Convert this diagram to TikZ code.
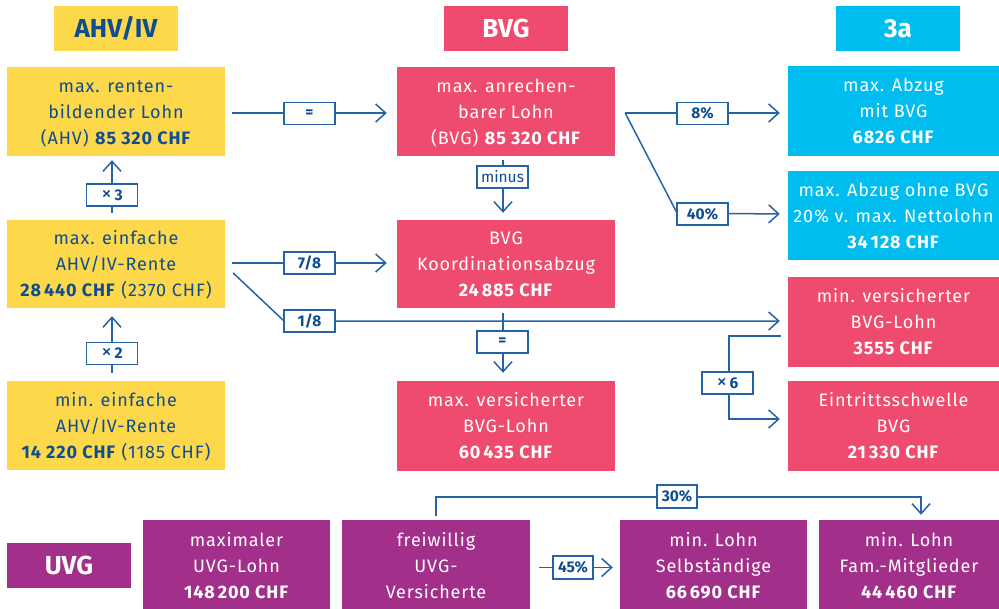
\documentclass[tikz,border=0pt]{standalone}
\usepackage{fontspec}
\setmainfont[LetterSpace=5]{Fira Sans}
\newfontfamily\hfont{Fira Sans}
\usetikzlibrary{arrows.meta,calc}
\definecolor{ahv}{HTML}{FDD84A}
\definecolor{bvg}{HTML}{EF4B6E}
\definecolor{drei}{HTML}{00BDF0}
\definecolor{uvg}{HTML}{A2308B}
\definecolor{tblue}{HTML}{0F4D92}
\definecolor{lblue}{HTML}{2463A6}
\newcommand{\mal}{{\mdseries\fontsize{21}{17}\selectfont ×}\,}
\begin{document}
\begin{tikzpicture}[x=1pt,y=-1pt,
 box/.style={inner sep=0pt, align=center, font=\fontsize{18}{26}\selectfont, text height=65pt, text depth=0pt},
 ybox/.style={box, fill=ahv, text=tblue},
 pbox/.style={box, fill=bvg, text=white},
 cbox/.style={box, fill=drei, text=white},
 ubox/.style={box, fill=uvg, text=white},
 hdr/.style={inner sep=0pt, minimum width=124, minimum height=45, font=\hfont\fontsize{26}{30}\selectfont\bfseries},
 lbl/.style={draw=lblue, line width=1.2pt, fill=white, minimum width=51, minimum height=22, inner sep=0pt, text=tblue, font=\hfont\fontsize{15.5}{17}\selectfont\bfseries},
 slbl/.style={lbl, minimum width=40, minimum height=23},
 conn/.style={draw=lblue, line width=1.5pt, -{Straight Barb[length=10pt,width=18pt,line width=1.5pt]}}
]
\useasboundingbox (0,0) rectangle (999,608);
\clip (0,0) rectangle (999,608);
% headers
\node[hdr, fill=ahv, text=tblue] (hA) at (116,28.5) {AHV/IV};
\node[hdr, fill=bvg, text=white] (hB) at (506,28.5) {BVG};
\node[hdr, fill=drei, text=white] (hC) at (898,28.5) {3a};
\node[hdr, fill=uvg, text=white] (hU) at (69,565.5) {UVG};
% AHV column
\node[ybox, minimum width=218, minimum height=89] (y1) at (116,111.5) {max. renten-\\bildender Lohn\\(AHV) \textbf{85 320 CHF}};
\node[ybox, minimum width=218, minimum height=88] (y2) at (116,264) {max. einfache\\AHV/IV-Rente\\\textbf{28\,440 CHF} (2370 CHF)};
\node[ybox, minimum width=218, minimum height=89] (y3) at (116,425.5) {min. einfache\\AHV/IV-Rente\\\textbf{14 220 CHF} (1185 CHF)};
% BVG column
\node[pbox, minimum width=218, minimum height=89] (p1) at (506,111.5) {max. anrechen-\\barer Lohn\\(BVG) \textbf{85 320 CHF}};
\node[pbox, minimum width=218, minimum height=88] (p2) at (506,264) {BVG\\Koordinationsabzug\\\textbf{24\,885 CHF}};
\node[pbox, minimum width=218, minimum height=90] (p3) at (506,426) {max. versicherter\\BVG-Lohn\\\textbf{60\,435 CHF}};
% right column
\node[cbox, minimum width=211, minimum height=90] (c1) at (893.5,111) {max. Abzug\\mit BVG\\\textbf{6826 CHF}};
\node[cbox, minimum width=211, minimum height=89] (c2) at (893.5,215.5) {max. Abzug ohne BVG\\20\% v. max. Nettolohn\\\textbf{34\,128 CHF}};
\node[pbox, minimum width=211, minimum height=90] (p4) at (893.5,322) {min. versicherter\\BVG-Lohn\\\textbf{3555 CHF}};
\node[pbox, minimum width=211, minimum height=90] (p5) at (893.5,426) {Eintrittsschwelle\\BVG\\\textbf{21\,330 CHF}};
% UVG row
\node[ubox, minimum width=187, minimum height=92] (u1) at (236.5,566) {maximaler\\UVG-Lohn\\\textbf{148\,200 CHF}};
\node[ubox, minimum width=188, minimum height=92] (u2) at (436,566) {freiwillig\\UVG-\\Versicherte};
\node[ubox, minimum width=187, minimum height=92] (u3) at (713.5,566) {min. Lohn\\Selbständige\\\textbf{66\,690 CHF}};
\node[ubox, minimum width=180, minimum height=92] (u4) at (909,566) {min. Lohn\\Fam.-Mitglieder\\\textbf{44\,460 CHF}};
% connectors
\coordinate (k1) at (284,321);
\coordinate (s) at ($(p1.east)+(10,1.5)$);
\coordinate (k2) at (677,213);
\coordinate (k3) at (680,497);
\draw[conn] ($(y1.east)+(7,1.5)$) -- ($(p1.west)+(-10,1.5)$);
\draw[conn] ($(y2.north)+(-4,-7)$) -- ($(y1.south)+(-4,4)$);
\draw[conn] ($(y3.north)+(-4,-8)$) -- ($(y2.south)+(-4,8)$);
\draw[conn] ($(y2.east)+(7,-1)$) -- ($(p2.west)+(-10,-1)$);
\draw[conn] ($(y2.east)+(8,9)$) -- (k1) -- ($(p4.west)+(-8,-1)$);
\draw[conn] ($(p1.south)+(-3,4)$) -- ($(p2.north)+(-3,-7)$);
\draw[conn] ($(p2.south)+(-3,5)$) -- ($(p3.north)+(-3,-8)$);
\draw[conn] (s) -- ($(c1.west)+(-8,2)$);
\draw[conn] (s) -- (k2) -- ($(c2.west)+(-8,-1.5)$);
\draw[conn] ($(p4.west)+(-7,14)$) -- ++(-52,0) |- ($(p5.west)+(-8,-7)$);
\draw[conn] ($(u2.north)+(0,-4)$) |- (k3) -| ($(u4.north)+(12,-5)$);
\draw[conn] ($(u2.east)+(9,1.5)$) -- ($(u3.west)+(-7,1.5)$);
% labels
\node[lbl] (l1) at (309.5,113.5) {=};
\node[lbl] (l2) at (112,195) {\mal 3};
\node[lbl] (l3) at (112,353.5) {\mal 2};
\node[lbl] (l4) at (309.5,263) {7/8};
\node[lbl] (l5) at (309.5,321) {1/8};
\node[lbl] (l6) at (502.5,177) {\mdseries minus};
\node[lbl] (l7) at (502.5,342) {=};
\node[lbl] (l8) at (702.5,113.5) {8\%};
\node[lbl] (l9) at (702.5,214) {40\%};
\node[lbl] (l10) at (727.5,383) {\mal 6};
\node[slbl] (l11) at (677,496.5) {30\%};
\node[slbl] (l12) at (573,567.5) {45\%};
\end{tikzpicture}
\end{document}
